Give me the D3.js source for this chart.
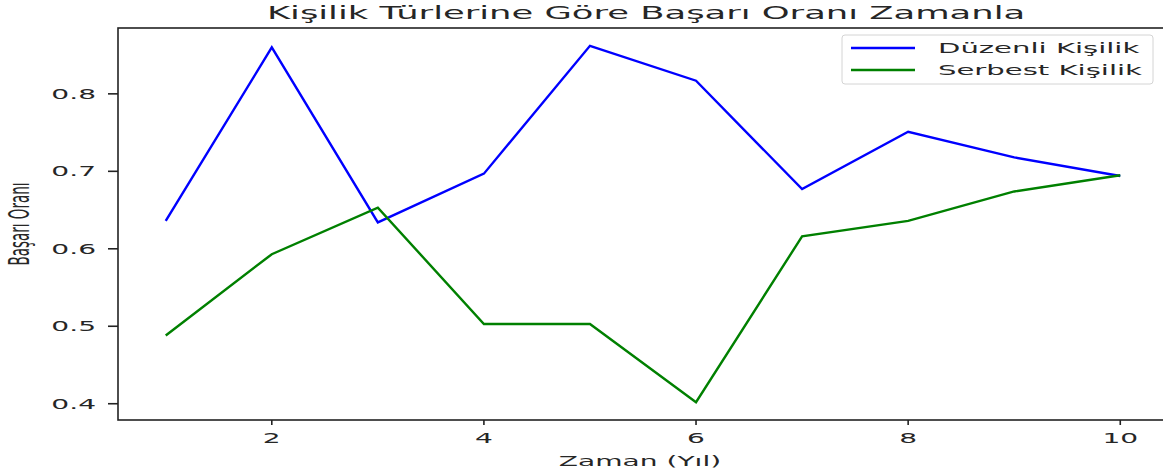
<!DOCTYPE html>
<html>
<head>
<meta charset="utf-8">
<script src="https://cdn.jsdelivr.net/npm/d3@7"></script>
<style>
	html, body { margin: 0; padding: 0; background: #fff; }
	svg { display: block; overflow: hidden; }
	text { font-family: "DejaVu Sans", sans-serif; fill: #262626; }
</style>
</head>
<body>
<svg id="chart" width="1163" height="471"></svg>
<script>
const years = [1, 2, 3, 4, 5, 6, 7, 8, 9, 10];
const duzenli = [0.636, 0.860, 0.634, 0.697, 0.862, 0.817, 0.677, 0.751, 0.718, 0.694];
const serbest = [0.488, 0.593, 0.653, 0.503, 0.503, 0.402, 0.616, 0.636, 0.674, 0.695];
const seriesNames = ['Düzenli Kişilik', 'Serbest Kişilik'];
const seriesColors = ['#0000ff', '#008000'];
const xTicks = [2, 4, 6, 8, 10];
const yTicks = [0.4, 0.5, 0.6, 0.7, 0.8];

const title = 'Kişilik Türlerine Göre Başarı Oranı Zamanla';
const xLabel = 'Zaman (Yıl)';
const yLabel = 'Başarı Oranı';

// the picture is stretched sideways, text too
const SX = 2.08;

const svg = d3.select('#chart');
const margin = {left: 118, top: 28, right: 1168, bottom: 420};

// matplotlib style 5% margins
const xExt = d3.extent(years);
const xPad = (xExt[1] - xExt[0]) * 0.05;
const x = d3.scaleLinear()
	.domain([xExt[0] - xPad, xExt[1] + xPad])
	.range([margin.left, margin.right]);

const allY = duzenli.concat(serbest);
const yExt = d3.extent(allY);
const yPad = (yExt[1] - yExt[0]) * 0.05;
const y = d3.scaleLinear()
	.domain([yExt[0] - yPad, yExt[1] + yPad])
	.range([margin.bottom, margin.top]);

function stretchedText(g, px, py, str, size, anchor, rotate) {
	return g.append('text')
		.attr('transform', 'translate(' + px + ',' + py + ') scale(' + SX + ',1)' + (rotate ? ' rotate(' + rotate + ')' : ''))
		.attr('text-anchor', anchor)
		.attr('font-size', size + 'px')
		.text(str);
}

// lines
const line = d3.line()
	.x((d, i) => x(years[i]))
	.y(d => y(d));

[duzenli, serbest].forEach((vals, i) => {
	svg.append('path')
		.datum(vals)
		.attr('d', line)
		.attr('fill', 'none')
		.attr('stroke', seriesColors[i])
		.attr('stroke-width', 2.4)
		.attr('stroke-linejoin', 'miter');
});

// spines
const axes = svg.append('g');
axes.append('rect')
	.attr('x', margin.left)
	.attr('y', margin.top)
	.attr('width', margin.right - margin.left)
	.attr('height', margin.bottom - margin.top)
	.attr('fill', 'none')
	.attr('stroke', '#222')
	.attr('stroke-width', 1.6);

// x ticks
xTicks.forEach((t) => {
	axes.append('line')
		.attr('x1', x(t)).attr('x2', x(t))
		.attr('y1', margin.bottom).attr('y2', margin.bottom + 5)
		.attr('stroke', '#222').attr('stroke-width', 1.6);
	stretchedText(axes, x(t), margin.bottom + 23, String(t), 13.5, 'middle');
});

// y ticks
yTicks.forEach((t) => {
	axes.append('line')
		.attr('x1', margin.left - 10).attr('x2', margin.left)
		.attr('y1', y(t)).attr('y2', y(t))
		.attr('stroke', '#222').attr('stroke-width', 1.6);
	stretchedText(axes, margin.left - 22, y(t) + 5, d3.format('.1f')(t), 13.5, 'end');
});

// labels
stretchedText(svg, (margin.left + margin.right) / 2 - 3, 466, xLabel, 13.5, 'middle');
stretchedText(svg, 29, (margin.top + margin.bottom) / 2, yLabel, 13.5, 'middle', -90);
stretchedText(svg, (margin.left + margin.right) / 2 + 3, 19, title, 17, 'middle');

// legend
const legend = svg.append('g');
legend.append('rect')
	.attr('x', 842).attr('y', 35)
	.attr('width', 311).attr('height', 49)
	.attr('rx', 3)
	.attr('fill', '#fff').attr('fill-opacity', 0.8)
	.attr('stroke', '#d4d4d4').attr('stroke-width', 1);

seriesNames.forEach((name, i) => {
	const ly = 48 + i * 22;
	legend.append('line')
		.attr('x1', 851).attr('x2', 915)
		.attr('y1', ly).attr('y2', ly)
		.attr('stroke', seriesColors[i])
		.attr('stroke-width', 2.4);
	stretchedText(legend, 938, ly + 5, name, 14, 'start');
});
</script>
</body>
</html>
